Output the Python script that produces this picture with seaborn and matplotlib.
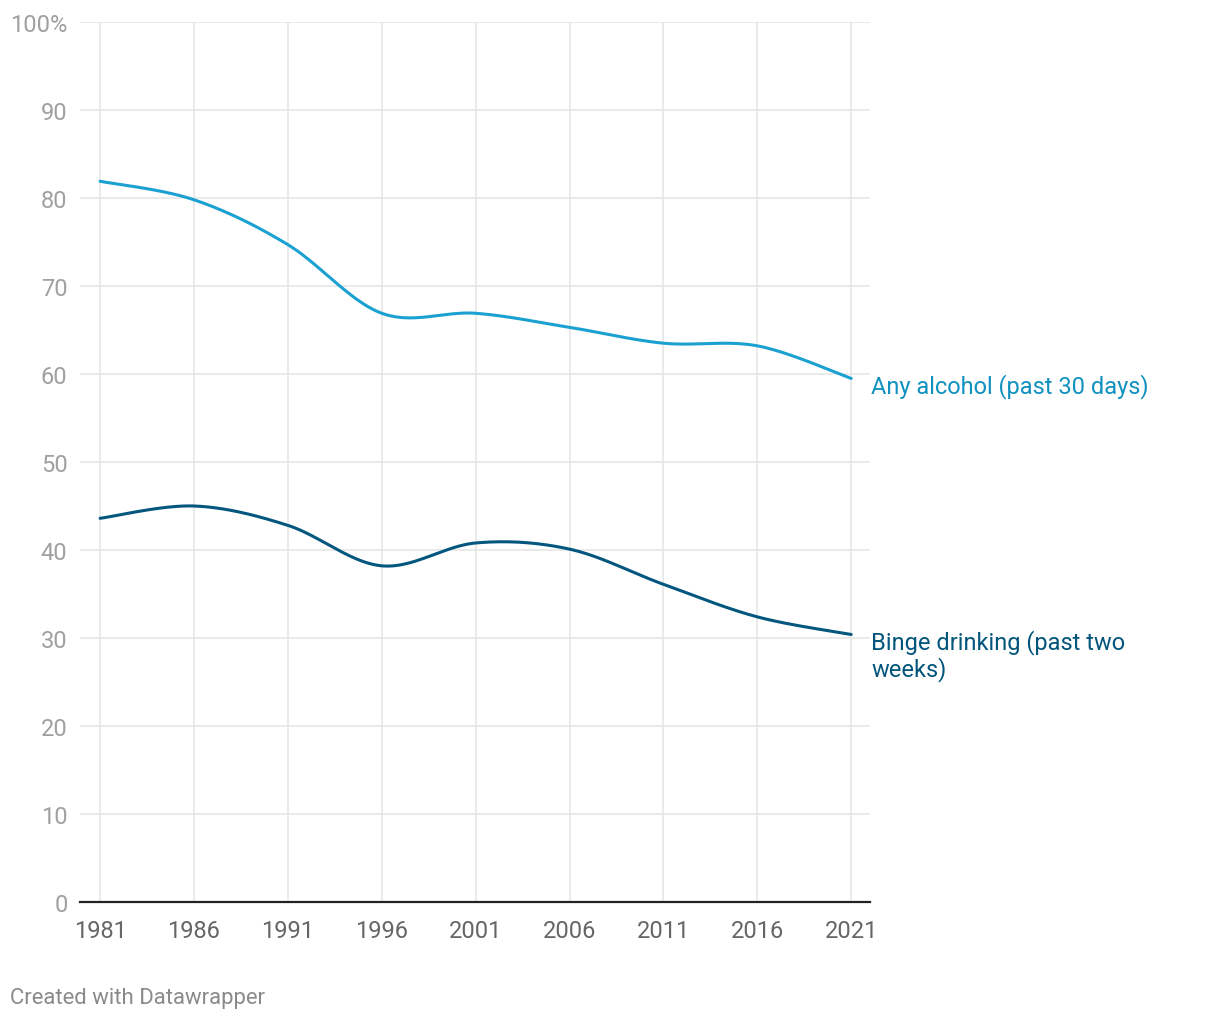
import numpy as np
import pandas as pd
import matplotlib
matplotlib.use("Agg")
import matplotlib.pyplot as plt
import seaborn as sns

years = [1981, 1986, 1991, 1996, 2001, 2006, 2011, 2016, 2021]
any_alcohol = [81.9, 79.8, 74.7, 66.9, 66.9, 65.3, 63.5, 63.2, 59.5]
binge = [43.6, 45.0, 42.8, 38.2, 40.8, 40.1, 36.1, 32.4, 30.4]
series_names = ["Any alcohol (past 30 days)", "Binge drinking (past two\nweeks)"]
y_ticks = [0, 10, 20, 30, 40, 50, 60, 70, 80, 90, 100]
y_tick_labels = ["0", "10", "20", "30", "40", "50", "60", "70", "80", "90", "100%"]

line_colors = ["#1ba1d1", "#03567e"]
label_colors = ["#1191bf", "#03557c"]


def cardinal_curve(x, y, n=40):
    """Smooth rendering (uniform Catmull-Rom) through the data points."""
    x = np.asarray(x, float)
    y = np.asarray(y, float)
    px = np.concatenate([[x[0]], x, [x[-1]]])
    py = np.concatenate([[y[0]], y, [y[-1]]])
    xs, ys = [], []
    for i in range(1, len(px) - 2):
        p0x, p1x, p2x, p3x = px[i - 1:i + 3]
        p0y, p1y, p2y, p3y = py[i - 1:i + 3]
        m1x, m2x = (p2x - p0x) / 2, (p3x - p1x) / 2
        m1y, m2y = (p2y - p0y) / 2, (p3y - p1y) / 2
        t = np.linspace(0, 1, n, endpoint=(i == len(px) - 3))
        h00 = 2 * t**3 - 3 * t**2 + 1
        h10 = t**3 - 2 * t**2 + t
        h01 = -2 * t**3 + 3 * t**2
        h11 = t**3 - t**2
        xs.append(h00 * p1x + h10 * m1x + h01 * p2x + h11 * m2x)
        ys.append(h00 * p1y + h10 * m1y + h01 * p2y + h11 * m2y)
    return np.concatenate(xs), np.concatenate(ys)


frames = []
for name, vals in zip(series_names, [any_alcohol, binge]):
    cx, cy = cardinal_curve(years, vals)
    frames.append(pd.DataFrame({"year": cx, "value": cy, "series": name}))
df = pd.concat(frames, ignore_index=True)

sns.set_theme(style="white")
plt.rcParams["font.family"] = ["Roboto", "DejaVu Sans"]

W, H = 1220, 1020
fig = plt.figure(figsize=(W / 100, H / 100), dpi=100)
left, right, top, bottom = 80, 870, 23, 903
ax = fig.add_axes([left / W, 1 - bottom / H, (right - left) / W, (bottom - top) / H])

sns.lineplot(data=df, x="year", y="value", hue="series", palette=line_colors,
             hue_order=series_names, sort=False, estimator=None,
             linewidth=2.2, legend=False, ax=ax, zorder=3)

ax.set_xlim(1979.93, 2022.0)
ax.set_ylim(0, 100)
ax.set_xticks(years)
ax.set_xticklabels([str(y) for y in years])
ax.set_yticks(y_ticks)
ax.set_yticklabels(y_tick_labels)
ax.set_xlabel("")
ax.set_ylabel("")

ax.grid(True, color="#e4e4e4", linewidth=1.1)
ax.set_axisbelow(True)
for s in ["top", "right", "left"]:
    ax.spines[s].set_visible(False)
ax.spines["bottom"].set_color("#222222")
ax.spines["bottom"].set_linewidth(1.6)
ax.spines["bottom"].set_zorder(4)

ax.tick_params(axis="x", length=0, pad=12, labelsize=17, labelcolor="#666666")
ax.tick_params(axis="y", length=0, pad=9, labelsize=17, labelcolor="#a0a0a0")

# end-of-line labels: each line of a label placed on its own baseline
line_gap_pt = 27 * 0.72
for name, vals, col in zip(series_names, [any_alcohol, binge], label_colors):
    for k, part in enumerate(name.split("\n")):
        ax.annotate(part, xy=(years[-1], vals[-1]),
                    xytext=(14.4, -10 - k * line_gap_pt),
                    textcoords="offset points", ha="left", va="baseline",
                    fontsize=17, color=col, annotation_clip=False)

fig.text(10 / W, 1 - 1004 / H, "Created with Datawrapper", fontsize=15.9,
         color="#8a8a8a", ha="left", va="baseline")

fig.savefig("out.png", dpi=100, facecolor="white")
